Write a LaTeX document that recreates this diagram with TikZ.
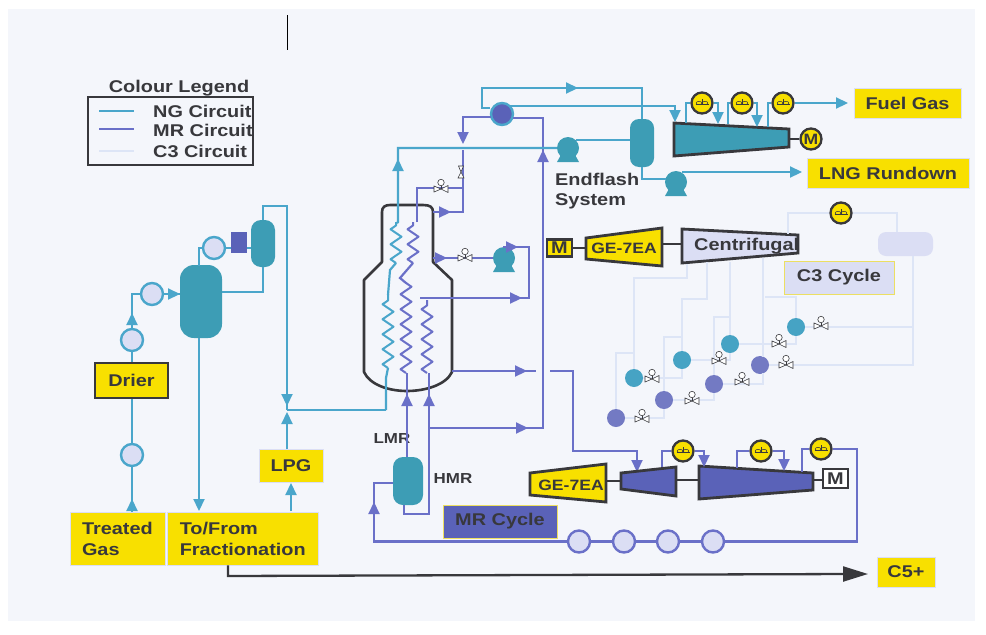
\documentclass[tikz,border=0pt]{standalone}
\usepackage{fontspec}
\setmainfont{Liberation Sans}[FakeStretch=1.17]
\usetikzlibrary{arrows.meta,decorations.pathmorphing,shapes.geometric}
\definecolor{ngc}{HTML}{4AA6CB}
\definecolor{mrc}{HTML}{6A70C8}
\definecolor{c3c}{HTML}{DDE5F6}
\definecolor{vess}{HTML}{3D9DB5}
\definecolor{mrf}{HTML}{5A62B8}
\definecolor{pale}{HTML}{DBDEF4}
\definecolor{yel}{HTML}{F8E000}
\definecolor{ink}{HTML}{38383C}
\definecolor{pagec}{HTML}{F4F6FB}
\tikzset{
  ng/.style={draw=ngc,line width=2.2pt},
  mr/.style={draw=mrc,line width=2.2pt},
  c3/.style={draw=c3c,line width=1.4pt},
  nga/.style={ng,-{Triangle[length=12pt,width=11pt]}},
  mra/.style={mr,-{Triangle[length=12pt,width=11pt]}},
  ink line/.style={draw=ink,line width=2.3pt},
  lab/.style={font=\bfseries\fontsize{17}{21}\selectfont,text=ink,inner sep=0pt},
  tag/.style={lab,fill=yel,draw=pale,line width=0.8pt,minimum width=#1,align=left,anchor=center},
  hx/.style={circle,draw=ngc,line width=2.4pt,fill=pale,minimum size=#1,inner sep=0pt},
  hx/.default=22pt,
  vesselbox/.style={rectangle,rounded corners=8pt,fill=vess,inner sep=0pt},
  chill/.style={circle,inner sep=0pt,minimum size=18pt,fill=#1},
  pumpbody/.style={circle,fill=vess,minimum size=22pt,inner sep=0pt},
  fan/.style={circle,draw=ink,line width=2.3pt,fill=yel,minimum size=21pt,inner sep=0pt,
    path picture={
      \draw[ink,line width=0.5pt] (path picture bounding box.center) ++(-6.5pt,-1.5pt) -- ++(13pt,0pt);
      \draw[ink,line width=0.5pt] (path picture bounding box.center) ++(0pt,-1.5pt) -- ++(0pt,6pt);
      \draw[ink,line width=0.5pt] (path picture bounding box.center) ++(-3pt,0pt) ellipse (2.8pt and 1.7pt);
      \draw[ink,line width=0.5pt] (path picture bounding box.center) ++(3pt,0pt) ellipse (2.8pt and 1.7pt);
    }},
  machine/.style={draw=ink,line width=2.8pt,line join=miter},
  valve/.pic={
    \draw[ink,line width=0.6pt,fill=white] (-7,3) -- (0,0) -- (-7,-3) -- cycle;
    \draw[ink,line width=0.6pt,fill=white] (7,3.5) -- (0,0) -- (7,-3.5) -- cycle;
    \draw[ink,line width=0.6pt,fill=white] (0,-6.5) circle (3.2pt);
    \draw[ink,line width=0.6pt] (0,0) -- (0,-3.5);
  },
  coilng/.style={draw=ngc,line width=2pt,line join=round,decorate,decoration={zigzag,amplitude=5.5pt,segment length=15pt}},
  coilmr/.style={draw=mrc,line width=2pt,line join=round,decorate,decoration={zigzag,amplitude=5.5pt,segment length=15pt}},
}
\newcommand{\pumpbase}[1]{\fill[vess] ([xshift=-6pt,yshift=-5pt]#1.center) -- ([xshift=6pt,yshift=-5pt]#1.center) -- ([xshift=11pt,yshift=-14pt]#1.center) -- ([xshift=-11pt,yshift=-14pt]#1.center) -- cycle;}
\begin{document}
\begin{tikzpicture}[x=1pt,y=-1pt]
\useasboundingbox (0,0) rectangle (986,635);
\fill[white] (0,0) rectangle (986,635);
\fill[pagec] (8,9) rectangle (975,621);
\draw[black,line width=0.8pt] (287,15) -- (287,50);

% ---------- legend
\node[lab] (legendtitle) at (179,88) {Colour Legend};
\coordinate (lg1a) at (99,111); \coordinate (lg1b) at (134,111);
\coordinate (lg2a) at (99,129); \coordinate (lg2b) at (134,129);
\coordinate (lg3a) at (99,151); \coordinate (lg3b) at (134,151);
\draw[ng] (lg1a) -- (lg1b);
\draw[mr] (lg2a) -- (lg2b);
\draw[c3] (lg3a) -- (lg3b);
\node[lab,anchor=west] (lgt1) at (153,111) {NG Circuit};
\node[lab,anchor=west] (lgt2) at (153,130) {MR Circuit};
\node[lab,anchor=west] (lgt3) at (153,151) {C3 Circuit};
\node[draw=ink,line width=2.3pt,minimum width=165pt,minimum height=68pt,inner sep=0pt] (legend) at (170.5,131) {};

% ---------- label boxes
\node[tag=95pt,minimum height=53pt,text width=71pt,inner xsep=12pt] (treated) at (117.5,538.5) {Treated\\Gas};
\node[tag=150pt,minimum height=53pt,text width=126.5pt,inner xsep=12pt] (frac) at (243,538.5) {To/From\\Fractionation};
\node[tag=64pt,minimum height=33pt,align=center] (lpg) at (291,465.5) {LPG};
\node[lab,fill=yel,draw=ink,line width=2.3pt,minimum width=73pt,minimum height=35pt] (drier) at (131.5,380.5) {Drier};
\node[tag=107pt,minimum height=30pt,align=center] (fuel) at (907.5,103) {Fuel Gas};
\node[tag=162pt,minimum height=30pt,align=center] (lng) at (888,173) {LNG Rundown};
\node[tag=58pt,minimum height=30pt,align=center] (c5) at (906,572) {C5+};
\node[lab,fill=pale,draw=yel!60!pale,line width=0.8pt,minimum width=110pt,minimum height=33pt] (c3box) at (839,277.5) {C3 Cycle};
\node[lab,fill=mrf,draw=yel!60!pale,line width=0.8pt,minimum width=114pt,minimum height=33pt] (mrbox) at (500,521.5) {MR Cycle};

% ---------- pretreatment equipment
\node[vesselbox,rounded corners=14pt,minimum width=42pt,minimum height=73pt] (v1) at (201,301.5) {};
\node[vesselbox,rounded corners=10pt,minimum width=24pt,minimum height=47pt] (v2) at (263,243.5) {};
\node[rectangle,fill=mrf,minimum width=16pt,minimum height=21pt,inner sep=0pt] (sq) at (239,242.5) {};
\node[hx] (h4) at (214,248) {};
\node[hx] (h3) at (152,294) {};
\node[hx] (h2) at (132,340) {};
\node[hx] (h1) at (132,455) {};

\draw[ng] (treated.north -| h1) -- (h1);
\draw[nga] (132,512) -- (132,499);
\draw[ng] (h1) -- (h1 |- drier.south);
\draw[ng] (drier.north -| h2) -- (h2);
\draw[ng] (h2) -- (132,294) -- (h3);
\draw[nga] (132,326) -- (132,313);
\draw[ng] (h3) -- (v1.west |- h3);
\draw[nga] (163,294) -- (180,294);
\coordinate (v1top) at (199,265.5);
\draw[ng] (v1top) -- (199,248) -- (h4);
\draw[ng] (h4) -- (sq.west |- h4);
\draw[ng] (sq.east |- h4) -- (v2.west |- h4);
\draw[ng] (v1.east |- 0,292) -- (263,292) -- (v2.south);
\coordinate (v1bot) at (199,338);
\coordinate (junc) at (287,410);
\draw[ng] (v2.north) -- (263,206) -- (287,206) -- (junc);
\draw[nga] (287,392) -- (287,406);
\draw[nga] (v1bot) -- (199,511);
\draw[nga] (291,511) -- (291,483);
\draw[nga] (287,449) -- (287,412);

% ---------- main exchanger shell
\draw[machine,line width=2.6pt,line join=round] (382,262) -- (382,212) .. controls (382,207) and (385,205) .. (390,205) -- (423,205) .. controls (430,205) and (433,207) .. (433,212) -- (433,262) -- (452,280) -- (452,372) .. controls (446,385) and (425,391) .. (407,391) .. controls (389,391) and (370,385) .. (364,372) -- (364,280) -- cycle;

% separator
\node[vesselbox,rounded corners=10pt,minimum width=30pt,minimum height=48pt] (sep) at (408,481) {};
\node[lab,font=\bfseries\fontsize{14.5}{16}\selectfont] (lmr) at (392,439) {LMR};
\node[lab,font=\bfseries\fontsize{14.5}{16}\selectfont] (hmr) at (453,479) {HMR};

% HX and machinery on the top
\node[circle,fill=mrf,draw=ngc,line width=2.4pt,minimum size=22pt,inner sep=0pt] (htop) at (502,114) {};
\node[vesselbox,rounded corners=9pt,minimum width=24pt,minimum height=48pt] (eflash) at (642,143) {};
\node[pumpbody] (p1) at (568,148) {}; \pumpbase{p1}
\node[pumpbody] (p2) at (504,258) {}; \pumpbase{p2}
\node[pumpbody] (p3) at (676,182) {}; \pumpbase{p3}

% NG compressor train
\draw[machine,fill=vess] (674,123) -- (789,129) -- (789,147) -- (674,156) -- cycle;
\coordinate (ngc1) at (686,123); \coordinate (ngc2) at (718,124);
\coordinate (ngc3) at (728,124); \coordinate (ngc4) at (757,127); \coordinate (ngc5) at (768,127);
\node[fan] (fa) at (702,103) {};
\node[fan] (fb) at (742,103) {};
\node[fan] (fc) at (783,103) {};
\node[circle,draw=ink,line width=2.3pt,fill=yel,minimum size=21pt,inner sep=0pt,lab,font=\bfseries\fontsize{15}{15}\selectfont] (mng) at (811,139) {M};
\draw[ink line] (789,139) -- (mng);

\draw[ng] (ngc1) -- (686,103) -- (fa);
\draw[ng] (fa) -- (718,103) -- (718,112);
\draw[nga] (718,110) -- (ngc2);
\draw[ng] (ngc3) -- (728,103) -- (fb);
\draw[ng] (fb) -- (757,103) -- (757,114);
\draw[nga] (757,112) -- (ngc4);
\draw[ng] (ngc5) -- (768,103) -- (fc);
\draw[ng] (fc) -- (835,103);
\draw[nga] (830,103) -- (848,103);

% endflash piping (NG)
\coordinate (hxL) at (490,108);
\coordinate (hxR) at (510,106);
\draw[ng] (hxL) -- (482,108) -- (482,88) -- (642,88) -- (eflash.north);
\draw[nga] (562,88) -- (578,88);
\draw[ng] (hxR) -- (675,106) -- (675,112);
\draw[nga] (675,110) -- (675,122);
\coordinate (p1out) at (576,140);
\draw[ng] (p1out) -- (p1out -| eflash.west);
\coordinate (p3in) at (666,179);
\draw[ng] (eflash.south) -- (642,179) -- (p3in);
\coordinate (p3out) at (682,172);
\draw[ng] (p3out) -- (790,172);
\draw[nga] (785,172) -- (802,172);

\node[lab,anchor=west] (ef1) at (555,179) {Endflash};
\node[lab,anchor=west] (ef2) at (555,201) {System};

% GE + centrifugal (C3 drive)
\node[lab,fill=yel,draw=ink,line width=2.3pt,minimum width=25pt,minimum height=17pt] (m2) at (559.5,248) {M};
\draw[machine,fill=yel] (586,238) -- (662,228) -- (662,266) -- (586,259) -- cycle;
\node[lab,font=\bfseries\fontsize{15}{15}\selectfont] (ge1) at (624,248) {GE-7EA};
\coordinate (ge1l) at (586,248); \coordinate (ge1r) at (662,244); \coordinate (cl) at (682,244);
\draw[ink line] (m2) -- (ge1l);
\draw[ink line] (ge1r) -- (cl);
\draw[machine,fill=pale] (682,229) -- (798,235) -- (798,253) -- (682,263) -- cycle;
\node[lab,anchor=west] (centr) at (694,246) {Centrifugal};

% ---------- C3 circuit
\node[vesselbox,fill=pale,minimum width=55pt,minimum height=24pt] (c3v) at (905.5,244) {};
\node[fan] (fd) at (841,213) {};
\node[chill=ngc!70!vess] (cn1) at (796,327) {};
\node[chill=ngc!70!vess] (cn2) at (730,344) {};
\node[chill=ngc!70!vess] (cn3) at (682,360) {};
\node[chill=ngc!70!vess] (cn4) at (634,378) {};
\node[chill=mrf!85!white] (cm1) at (760,365) {};
\node[chill=mrf!85!white] (cm2) at (714,384) {};
\node[chill=mrf!85!white] (cm3) at (664,400) {};
\node[chill=mrf!85!white] (cm4) at (616,418) {};

\draw[c3] (fd) -- (788,213) -- (788,234);
\draw[c3] (fd) -- (897,213) -- (897,232);
\draw[c3] (913,256) -- (913,365) -- (cm1);
\draw[c3] (cn1) -- (913,327);
\draw[c3] (687,264) -- (687,278) -- (634,278) -- (cn4);
\draw[c3] (707,262) -- (707,299) -- (682,299) -- (cn3);
\draw[c3] (730,262) -- (cn2);
\draw[c3] (763,258) -- (763,357);
\draw[c3] (763,373) -- (763,384) -- (cm2);
\draw[c3] (765,297) -- (796,297) -- (cn1);
\draw[c3] (cn2) -- (796,344) -- (cn1);
\draw[c3] (cn3) -- (730,360) -- (cn2);
\draw[c3] (cn4) -- (682,378) -- (cn3);
\draw[c3] (cm4) -- (664,418) -- (cm3);
\draw[c3] (cm3) -- (664,337) -- (682,337);
\draw[c3] (cm4) -- (616,353) -- (634,353);
\draw[c3] (cm3) -- (714,400) -- (cm2);
\draw[c3] (cm2) -- (714,317) -- (730,317);
\pic at (821,326) {valve};
\pic at (779,344) {valve};
\pic at (719,361) {valve};
\pic at (652,379) {valve};
\pic at (786,365) {valve};
\pic at (742,382) {valve};
\pic at (692,401) {valve};
\pic at (642,419) {valve};

% ---------- MR piping
\coordinate (mrhxL) at (491,117);
\coordinate (mrhxR) at (513,118);
\draw[mr] (mrhxL) -- (463,117) -- (463,135);
\draw[mra] (463,130) -- (463,144);
\draw[mr] (463,150) -- (463,212) -- (433,212);
\draw[mra] (434,212) -- (451,212);
\draw[mr] (417,222) -- (417,188) -- (463,188);
\pic at (441,189) {valve};
\draw[ink,line width=0.6pt,fill=white] (458.5,166) -- (463.5,166) -- (461,172) -- cycle;
\draw[ink,line width=0.6pt,fill=white] (458,178) -- (464,178) -- (461,172) -- cycle;
\draw[mr] (mrhxR) -- (543,118) -- (543,428) -- (429,428);
\draw[mra] (543,170) -- (543,150);
\draw[mra] (514,428) -- (528,428);
\draw[mr] (433,258) -- (p2);
\draw[mra] (434,258) -- (447,258);
\pic at (465,258) {valve};
\draw[mr] (506,247) -- (529,247) -- (529,298) -- (420,298);
\draw[mra] (503,247) -- (518,247);
\draw[mra] (508,298) -- (522,298);
\draw[mr] (452,371) -- (536,371);
\draw[mra] (513,371) -- (527,371);
\draw[mr] (550,371) -- (573,371) -- (573,451) -- (637,451) -- (637,460);
\draw[mra] (637,458) -- (637,472);

% coils
\draw[ng] (386,410) -- (386,378) -- (388,368);
\draw[coilng] (388,368) -- (388,294);
\draw[ng] (388,295) -- (390,270) -- (396,263);
\draw[coilng] (396,263) -- (396,222);
\draw[ng] (397,223) -- (398,222) -- (398,148) -- (p1);
\draw[nga] (398,174) -- (398,159);
\draw[ng] (junc) -- (386,410);

\draw[coilmr] (406,373) -- (406,282);
\draw[mr] (406,283) -- (400,278) -- (413,263);
\draw[coilmr] (413,263) -- (413,222);
\draw[mr] (407,373) -- (407,457);
\draw[mra] (407,411) -- (407,394);
\draw[coilmr] (427,373) -- (427,300);
\draw[mr] (429,373) -- (429,514) -- (404,514) -- (404,505);
\draw[mra] (429,411) -- (429,394);

% ---------- MR compressor train
\draw[machine,fill=yel] (530,473) -- (606,464) -- (606,502) -- (530,495) -- cycle;
\node[lab,font=\bfseries\fontsize{15}{15}\selectfont] (ge2) at (571,485) {GE-7EA};
\draw[machine,fill=mrf] (621,473) -- (676,467) -- (676,496) -- (621,489) -- cycle;
\draw[machine,fill=mrf] (699,466) -- (813,473) -- (813,490) -- (699,499) -- cycle;
\coordinate (s1a) at (606,481); \coordinate (s1b) at (621,481);
\coordinate (s2a) at (676,480); \coordinate (s2b) at (699,480);
\coordinate (s3a) at (813,480);
\node[lab,fill=white,draw=ink,line width=2.3pt,minimum width=25pt,minimum height=19pt] (m3) at (835.5,478.5) {M};
\draw[ink line] (s1a) -- (s1b);
\draw[ink line] (s2a) -- (s2b);
\draw[ink line] (s3a) -- (m3.west |- s3a);
\node[fan] (fe) at (683,451) {};
\node[fan] (ff) at (761,451) {};
\node[fan] (fg) at (821,449) {};
\draw[mr] (662,467) -- (662,451) -- (fe);
\draw[mr] (fe) -- (704,451) -- (704,456);
\draw[mra] (704,454) -- (704,467);
\draw[mr] (737,468) -- (737,451) -- (ff);
\draw[mr] (ff) -- (784,451) -- (784,458);
\draw[mra] (784,456) -- (784,471);
\draw[mr] (802,472) -- (802,449) -- (fg);

% condensers and recycle
\node[hx,draw=mrc] (r1) at (579,541.5) {};
\node[hx,draw=mrc] (r2) at (624,541.5) {};
\node[hx,draw=mrc] (r3) at (668,541.5) {};
\node[hx,draw=mrc] (r4) at (713,541.5) {};
\draw[mr] (fg) -- (857,449) -- (857,541.5) -- (r4);
\draw[mr] (r4) -- (r3);
\draw[mr] (r3) -- (r2);
\draw[mr] (r2) -- (r1);
\draw[mr] (r1) -- (374,541.5) -- (374,483) -- (sep.west |- 0,483);
\draw[mra] (374,517) -- (374,502);

% product arrow
\coordinate (c5a) at (228,576);
\draw[ink line] (frac.south -| c5a) -- (c5a) -- (850,574);
\draw[ink line,-{Triangle[length=25pt,width=15pt]}] (845,574) -- (868,574);
\end{tikzpicture}
\end{document}
